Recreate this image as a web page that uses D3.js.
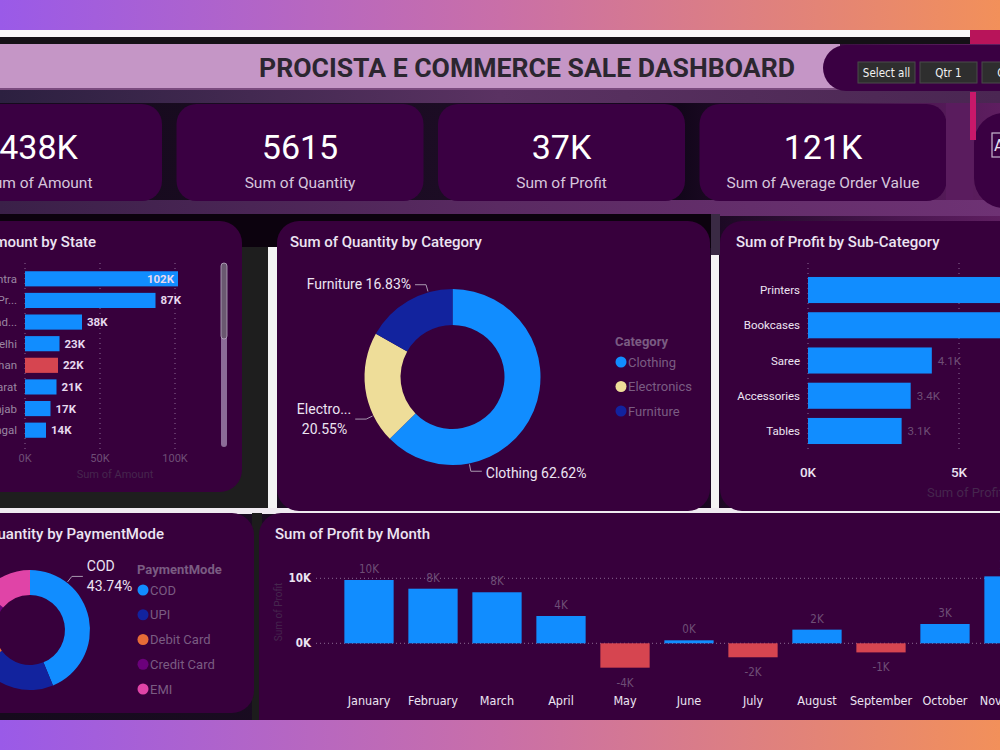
<!DOCTYPE html>
<html><head><meta charset="utf-8">
<script src="https://cdn.jsdelivr.net/npm/d3@7"></script>
<style>html,body{margin:0;padding:0;background:#000;overflow:hidden}svg{display:block}</style>
</head><body><svg id="c" width="1000" height="750"></svg>
<script>
// ---------- data ----------
const dashboardTitle = "PROCISTA E COMMERCE SALE  DASHBOARD";
const slicerOptions = ["Select all", "Qtr 1", "Qtr 2"];
const kpiValues = ["438K", "5615", "37K", "121K"];
const kpiLabels = ["Sum of Amount", "Sum of Quantity", "Sum of Profit", "Sum of Average Order Value"];
const states = ["Maharashtra", "Madhya Pradesh", "Uttar Pradesh", "Delhi", "Rajasthan", "Gujarat", "Punjab", "West Bengal"];
const stateAmounts = [102, 87, 38, 23, 22, 21, 17, 14]; // thousands
const highlightedState = "Rajasthan";
const amountTicks = [0, 50, 100];
const categories = ["Clothing", "Electronics", "Furniture"];
const categoryShares = [62.62, 20.55, 16.83];
const subCategories = ["Printers", "Bookcases", "Saree", "Accessories", "Tables"];
const subCategoryProfit = [8.6, 8.2, 4.1, 3.4, 3.1]; // thousands
const profitTicks = [0, 5];
const paymentModes = ["COD", "UPI", "Debit Card", "Credit Card", "EMI"];
const paymentShares = [43.74, 21.2, 10.1, 11.0, 13.96];
const months = ["January", "February", "March", "April", "May", "June", "July", "August", "September", "October", "November", "December"];
const monthProfit = [9.74, 8.4, 7.85, 4.2, -3.75, 0.46, -2.15, 2.1, -1.4, 2.97, 10.3, -1.7]; // thousands
const monthTicks = [0, 10];

// ---------- styles ----------
const FONT = "Roboto, 'Noto Sans', sans-serif";
const COND = "'Liberation Sans Narrow', 'DejaVu Sans Condensed', Roboto, sans-serif";
const PANEL = "#37003c";
const BLUE = "#118DFF", RED = "#D64550";
const TXT = "#ece4f2", DIM = "#6e4e76", DIMMER = "#46264e", LEG = "#7a5c82";

const svg = d3.select("#c");
const defs = svg.append("defs");
function lin(id, stops, x2 = 1, y2 = 0) {
  const g = defs.append("linearGradient").attr("id", id).attr("x1", 0).attr("y1", 0).attr("x2", x2).attr("y2", y2);
  stops.forEach(([o, c]) => g.append("stop").attr("offset", o).attr("stop-color", c));
}
lin("frame", [[0, "#9a5ae8"], [0.5, "#c96fa8"], [1, "#f2905a"]]);
lin("canvas", [[0, "#150a1c"], [0.45, "#1c0c24"], [0.68, "#12061a"], [0.9, "#4a1650"], [1, "#5e1e60"]]);
lin("band1", [[0, "#2c2040"], [0.5, "#5a3262"], [1, "#4a2652"]]);
lin("band2", [[0, "#3a2048"], [0.5, "#5a2a62"], [1, "#6e3274"]]);

// ---------- background ----------
svg.append("rect").attr("width", 1000).attr("height", 750).attr("fill", "url(#frame)");
svg.append("rect").attr("y", 37).attr("width", 1000).attr("height", 683).attr("fill", "url(#canvas)");
svg.append("rect").attr("y", 89).attr("width", 1000).attr("height", 14).attr("fill", "url(#band1)");
svg.append("rect").attr("y", 200).attr("width", 1000).attr("height", 16).attr("fill", "url(#band2)");
svg.append("rect").attr("y", 30).attr("width", 970).attr("height", 7).attr("fill", "#f8f6f8");
svg.append("rect").attr("y", 37).attr("width", 970).attr("height", 7).attr("fill", "#141016");
svg.append("rect").attr("x", 970).attr("y", 30).attr("width", 30).attr("height", 14).attr("fill", "#b8145a");
// area behind middle row
svg.append("rect").attr("y", 214).attr("width", 712).attr("height", 34).attr("fill", "#0c020e");
svg.append("rect").attr("y", 247).attr("width", 268).attr("height", 262).attr("fill", "#1e1e1e");
svg.append("rect").attr("x", 268).attr("y", 247).attr("width", 9).attr("height", 264).attr("fill", "#f4f4f4");
svg.append("rect").attr("x", 711).attr("y", 214).attr("width", 9).attr("height", 41).attr("fill", "#3a2a44");
svg.append("rect").attr("x", 711).attr("y", 255).attr("width", 8).attr("height", 256).attr("fill", "#f4f4f4");
svg.append("rect").attr("y", 508).attr("width", 1000).attr("height", 6).attr("fill", "#efeaf0");
svg.append("rect").attr("x", 252).attr("y", 513).attr("width", 10).attr("height", 207).attr("fill", "#1c1c1c");

// ---------- header ----------
svg.append("rect").attr("x", -10).attr("y", 44).attr("width", 850).attr("height", 46).attr("fill", "#c596c6");
svg.append("rect").attr("x", -10).attr("y", 88).attr("width", 850).attr("height", 2).attr("fill", "#7a4a7e");
svg.append("text").attr("x", 527).attr("y", 77).attr("text-anchor", "middle")
  .attr("font-family", FONT).attr("font-weight", 700).attr("font-size", 25).attr("fill", "#2b2630")
  .attr("textLength", 536).attr("lengthAdjust", "spacingAndGlyphs").text(dashboardTitle);
svg.append("rect").attr("x", 823).attr("y", 45).attr("width", 240).attr("height", 46).attr("rx", 23).attr("fill", "#3a0042");
const slicer = svg.append("g");
slicerOptions.forEach((s, i) => {
  const x = 858 + i * 62;
  slicer.append("rect").attr("x", x).attr("y", 62).attr("width", 57).attr("height", 21).attr("fill", "#2e2e2e").attr("stroke", "#4a4a4a");
  slicer.append("text").attr("x", x + 28.5).attr("y", 76.5).attr("text-anchor", "middle")
    .attr("font-family", COND).attr("font-size", 11.5).attr("fill", "#f2f2f2").text(s);
});

// ---------- KPI cards ----------
kpiValues.forEach((v, i) => {
  const x = -85 + i * 261.5;
  svg.append("rect").attr("x", x).attr("y", 104).attr("width", 247).attr("height", 97).attr("rx", 20).attr("fill", "#3a0042");
  svg.append("text").attr("x", x + 123.5).attr("y", 159).attr("text-anchor", "middle")
    .attr("font-family", FONT).attr("font-weight", 400).attr("font-size", 34).attr("fill", "#ffffff").text(v);
  svg.append("text").attr("x", x + 123.5).attr("y", 188).attr("text-anchor", "middle")
    .attr("font-family", FONT).attr("font-size", 15.5).attr("fill", "#d6c6dc").text(kpiLabels[i]);
});
svg.append("rect").attr("x", 946).attr("y", 103).attr("width", 27).attr("height", 97).attr("fill", "#5a1c5e");
svg.append("rect").attr("x", 974).attr("y", 113).attr("width", 80).attr("height", 95).attr("rx", 30).attr("fill", "#3a0042");
svg.append("rect").attr("x", 970).attr("y", 92).attr("width", 6).attr("height", 48).attr("fill", "#c8186a");
svg.append("rect").attr("x", 992).attr("y", 133).attr("width", 14).attr("height", 24).attr("fill", "none").attr("stroke", "#c8b8d0").attr("stroke-width", 1.2);
svg.append("text").attr("x", 994).attr("y", 151).attr("font-family", FONT).attr("font-size", 16).attr("fill", "#e8e0ee").text("A");

// ---------- panels ----------
function panel(x, y, w, h) {
  svg.append("rect").attr("x", x).attr("y", y).attr("width", w).attr("height", h).attr("rx", 22).attr("fill", PANEL);
}
panel(-30, 221, 272, 271);
panel(277, 221, 433, 290);
panel(720, 221, 310, 290);
panel(-30, 513, 284, 200);
panel(259, 513, 780, 230);

function title(x, y, t, anchor = "start") {
  svg.append("text").attr("x", x).attr("y", y).attr("text-anchor", anchor)
    .attr("font-family", FONT).attr("font-weight", 500).attr("font-size", 15).attr("fill", TXT).text(t);
}

// ---------- Sum of Amount by State ----------
title(96, 247, "Sum of Amount by State", "end");
{
  const g = svg.append("g");
  const x = d3.scaleLinear().domain([0, 100]).range([25, 175]);
  const y = d3.scaleBand().domain(states).range([268, 441]).paddingInner(0.3).paddingOuter(0.15);
  amountTicks.forEach(t => {
    g.append("line").attr("x1", x(t)).attr("x2", x(t)).attr("y1", 263).attr("y2", 450)
      .attr("stroke", "#8a6a92").attr("stroke-width", 1).attr("stroke-dasharray", "1,4");
    g.append("text").attr("x", x(t)).attr("y", 462).attr("text-anchor", "middle")
      .attr("font-family", FONT).attr("font-size", 11).attr("fill", DIM).text(t + "K");
  });
  g.append("text").attr("x", 115).attr("y", 478).attr("text-anchor", "middle")
    .attr("font-family", FONT).attr("font-size", 11).attr("fill", DIMMER).text("Sum of Amount");
  states.forEach((s, i) => {
    const v = stateAmounts[i];
    const lbl = g.append("text").attr("x", 17).attr("y", y(s) + y.bandwidth() / 2 + 4).attr("text-anchor", "end")
      .attr("font-family", FONT).attr("font-size", 11.5).attr("fill", "#9a86a2").text(s);
    let name = s;
    while (lbl.node().getComputedTextLength() > 66 && name.length > 1) {
      name = name.slice(0, -1);
      lbl.text(name.trim() + "...");
    }
    g.append("rect").attr("x", x(0)).attr("y", y(s)).attr("width", x(v) - x(0)).attr("height", y.bandwidth())
      .attr("fill", s === highlightedState ? RED : BLUE);
    const inside = x(v) + 32 > 200;
    g.append("text").attr("x", inside ? x(v) - 4 : x(v) + 5).attr("y", y(s) + y.bandwidth() / 2 + 4)
      .attr("text-anchor", inside ? "end" : "start")
      .attr("font-family", FONT).attr("font-weight", 700).attr("font-size", 11.5).attr("fill", "#e6d8ee").text(v + "K");
  });
  g.append("rect").attr("x", 221).attr("y", 263).attr("width", 6).attr("height", 184).attr("rx", 3).attr("fill", "#8c6c98");
  g.append("rect").attr("x", 221).attr("y", 263).attr("width", 6).attr("height", 76).attr("rx", 3).attr("fill", "#6a5870").attr("stroke", "#b8a8c0").attr("stroke-width", 0.8);
}

// ---------- donut helper ----------
function donut(cx, cy, rIn, rOut, names, shares, colors, leaderAngles) {
  const g = svg.append("g").attr("transform", `translate(${cx},${cy})`);
  const pie = d3.pie().sort(null).value(d => d)(shares);
  const arc = d3.arc().innerRadius(rIn).outerRadius(rOut);
  g.selectAll("path").data(pie).join("path").attr("d", arc).attr("fill", (d, i) => colors[i]);
  pie.forEach((d, i) => {
    const ang = leaderAngles[names[i]];
    if (ang === undefined) return;
    const a = ang * Math.PI / 180;
    const p1 = [Math.sin(a) * (rOut + 1), -Math.cos(a) * (rOut + 1)];
    const p2 = [Math.sin(a) * (rOut + 8), -Math.cos(a) * (rOut + 8)];
    const dir = Math.sin(a) < 0 ? -1 : 1;
    const p3 = [p2[0] + dir * 11, p2[1]];
    g.append("polyline").attr("points", [p1, p2, p3].map(p => p.join(",")).join(" "))
      .attr("fill", "none").attr("stroke", "#a898b0").attr("stroke-width", 1);
    const pct = shares[i].toFixed(2) + "%";
    const wrap = Math.abs(Math.cos(a)) < 0.8;
    const t = g.append("text").attr("x", p3[0] + dir * 4).attr("text-anchor", dir < 0 ? "end" : "start")
      .attr("font-family", FONT).attr("font-size", 14).attr("fill", TXT);
    if (wrap) {
      const nm = names[i].length > 8 ? names[i].slice(0, 7) + "..." : names[i];
      t.attr("y", p3[1] - 5).text(nm);
      g.append("text").attr("x", p3[0] + dir * 4).attr("y", p3[1] + 15)
        .attr("text-anchor", dir < 0 ? "end" : "start").attr("dx", dir < 0 ? -4 : 0)
        .attr("font-family", FONT).attr("font-size", 14).attr("fill", TXT).text(pct);
    } else {
      t.attr("y", p3[1] + (Math.cos(a) < 0 ? 7 : 4)).text(names[i] + " " + pct);
    }
  });
}
function legend(x, y, heading, names, colors, step) {
  const g = svg.append("g");
  g.append("text").attr("x", x).attr("y", y).attr("font-family", FONT).attr("font-weight", 700)
    .attr("font-size", 13).attr("fill", LEG).text(heading);
  names.forEach((n, i) => {
    const yy = y + 16 + i * step;
    g.append("circle").attr("cx", x + 6).attr("cy", yy).attr("r", 5.5).attr("fill", colors[i]);
    g.append("text").attr("x", x + 13).attr("y", yy + 4.5).attr("font-family", FONT)
      .attr("font-size", 13).attr("fill", LEG).text(n);
  });
}

// ---------- Sum of Quantity by Category ----------
title(290, 247, "Sum of Quantity by Category");
const catColors = ["#118DFF", "#EEDD99", "#12239E"];
donut(452.5, 377, 52, 88, categories, categoryShares, catColors, { Clothing: 169, Electronics: 244, Furniture: 344 });
legend(615, 346, "Category", categories, catColors, 24.5);

// ---------- Sum of Profit by Sub-Category ----------
title(736, 247, "Sum of Profit by Sub-Category");
{
  const g = svg.append("g");
  const x = d3.scaleLinear().domain([0, 5]).range([808, 959]);
  const y = d3.scaleBand().domain(subCategories).range([272.4, 448.6]).paddingInner(0.26).paddingOuter(0.13);
  profitTicks.forEach(t => {
    g.append("line").attr("x1", x(t)).attr("x2", x(t)).attr("y1", 263).attr("y2", 452)
      .attr("stroke", "#8a6a92").attr("stroke-dasharray", "1,4");
    g.append("text").attr("x", x(t)).attr("y", 477).attr("text-anchor", "middle")
      .attr("font-family", FONT).attr("font-weight", 500).attr("font-size", 13.5).attr("fill", TXT).text(t + "K");
  });
  g.append("text").attr("x", 965).attr("y", 497).attr("text-anchor", "middle")
    .attr("font-family", FONT).attr("font-size", 13).attr("fill", DIMMER).text("Sum of Profit");
  subCategories.forEach((s, i) => {
    const v = subCategoryProfit[i];
    g.append("text").attr("x", 800).attr("y", y(s) + y.bandwidth() / 2 + 4).attr("text-anchor", "end")
      .attr("font-family", FONT).attr("font-size", 11.5).attr("fill", TXT).text(s);
    g.append("rect").attr("x", x(0)).attr("y", y(s)).attr("width", x(v) - x(0)).attr("height", y.bandwidth()).attr("fill", BLUE);
    g.append("text").attr("x", x(v) + 6).attr("y", y(s) + y.bandwidth() / 2 + 4)
      .attr("font-family", FONT).attr("font-size", 11.5).attr("fill", DIM).text(v.toFixed(1) + "K");
  });
}

// ---------- Sum of Quantity by PaymentMode ----------
title(164, 539, "Sum of Quantity by PaymentMode", "end");
const payColors = ["#118DFF", "#12239E", "#E66C37", "#6B007B", "#E044A7"];
donut(30, 630, 35, 60, paymentModes, paymentShares, payColors, { COD: 38 });
legend(137, 574, "PaymentMode", paymentModes, payColors, 24.75);

// ---------- Sum of Profit by Month ----------
title(275, 539, "Sum of Profit by Month");
{
  const g = svg.append("g");
  const x = d3.scaleBand().domain(months).range([337, 1105]).paddingInner(0.23).paddingOuter(0.115);
  const y = d3.scaleLinear().domain([0, 10]).range([643.3, 578.3]);
  monthTicks.forEach(t => {
    g.append("line").attr("x1", 316).attr("x2", 1000).attr("y1", y(t)).attr("y2", y(t))
      .attr("stroke", "#8a6a92").attr("stroke-dasharray", "1,3");
    g.append("text").attr("x", 311).attr("y", y(t) + 4).attr("text-anchor", "end")
      .attr("font-family", COND).attr("font-weight", 700).attr("font-size", 11.5).attr("fill", TXT).text(t + "K");
  });
  g.append("text").attr("transform", "translate(282,612) rotate(-90)").attr("text-anchor", "middle")
    .attr("font-family", FONT).attr("font-size", 10).attr("fill", DIMMER).text("Sum of Profit");
  months.forEach((m, i) => {
    const v = monthProfit[i];
    const y0 = y(Math.max(0, v)), y1 = y(Math.min(0, v));
    g.append("rect").attr("x", x(m)).attr("y", y0).attr("width", x.bandwidth()).attr("height", Math.max(1, y1 - y0))
      .attr("fill", v >= 0 ? BLUE : RED);
    g.append("text").attr("x", x(m) + x.bandwidth() / 2).attr("y", v >= 0 ? y0 - 7 : y1 + 19)
      .attr("text-anchor", "middle").attr("font-family", COND).attr("font-size", 11.5).attr("fill", DIM)
      .text(Math.round(v) + "K");
    g.append("text").attr("x", x(m) + x.bandwidth() / 2).attr("y", 705).attr("text-anchor", "middle")
      .attr("font-family", COND).attr("font-size", 12.5).attr("fill", TXT).text(m);
  });
}

// bottom frame strip
svg.append("rect").attr("y", 720).attr("width", 1000).attr("height", 30).attr("fill", "url(#frame)");
</script>
</body></html>
